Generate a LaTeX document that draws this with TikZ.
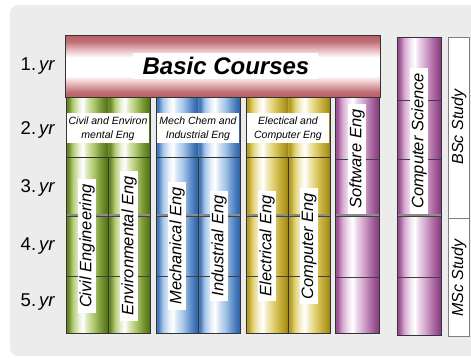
\documentclass[tikz,border=0pt]{standalone}
\usepackage{fontspec}
\setmainfont{Liberation Sans}
\setsansfont{Liberation Sans}
\definecolor{bg}{RGB}{236,236,236}
\definecolor{pinkD}{RGB}{182,96,102}
\definecolor{pinkL}{RGB}{232,188,190}
\definecolor{greenD}{RGB}{96,130,32}
\definecolor{greenL}{RGB}{180,204,115}
\definecolor{blueD}{RGB}{60,114,182}
\definecolor{blueL}{RGB}{166,198,234}
\definecolor{goldD}{RGB}{178,152,30}
\definecolor{goldL}{RGB}{226,210,115}
\definecolor{purD}{RGB}{152,76,142}
\definecolor{purL}{RGB}{212,166,206}
\newcommand\mkstripe[2]{\pgfdeclarehorizontalshading{#1}{100bp}{color(0bp)=(#2D!80!#2L); color(25bp)=(#2D!80!#2L); color(27bp)=(#2D); color(33bp)=(#2L); color(40bp)=(#2L!30!white); color(45bp)=(white); color(50bp)=(#2L!50!white); color(57bp)=(#2L); color(65bp)=(#2D!60!#2L); color(71bp)=(#2D); color(75bp)=(#2D!85!black); color(100bp)=(#2D!85!black)}}
\mkstripe{greenS}{green}
\mkstripe{blueS}{blue}
\mkstripe{goldS}{gold}
\mkstripe{purS}{pur}
\pgfdeclareverticalshading{pinkV}{100bp}{color(0bp)=(pinkD); color(25bp)=(pinkD); color(29bp)=(pinkD!85!pinkL); color(36bp)=(pinkL); color(42bp)=(white); color(57bp)=(white); color(63bp)=(pinkL); color(70bp)=(pinkD!85!pinkL); color(75bp)=(pinkD); color(100bp)=(pinkD)}
\begin{document}
\begin{tikzpicture}[x=1pt,y=-1pt,
  border/.style={draw=black!80, line width=0.7pt},
  hatch/.style={draw=black!75, double=black!45, double distance=1.4pt, line width=0.8pt},
  yrline/.style={draw=black!75, line width=0.6pt},
  colabel/.style={rotate=90, fill=white, inner xsep=5pt, inner ysep=1.5pt, font=\fontsize{16.5}{18}\selectfont\itshape},
  headlabel/.style={align=center, font=\fontsize{10.5}{14}\selectfont\itshape},
  yrlabel/.style={font=\fontsize{18.5}{20}\selectfont},
  studylabel/.style={rotate=90, font=\fontsize{16}{18}\selectfont\itshape},
]
\useasboundingbox (0,0) rectangle (471,357);
\fill[bg, rounded corners=8pt] (10,5) rectangle (490,356);

% Basic courses
\shade[shading=pinkV] (65,35) rectangle (380,97);
\fill[white] (133,53) rectangle (318,79);
\draw[border] (65,35) rectangle (380,97);
\node[font=\fontsize{24}{26}\selectfont\bfseries\itshape] (basic) at (226,66) {Basic Courses};

% Green column
\shade[shading=greenS] (66,97) rectangle (108,333);
\shade[shading=greenS] (108,97) rectangle (150,333);
\fill[white] (67,113) rectangle (149,143);
\draw[hatch] (66,215) -- (150,215);
\draw[yrline] (66,276) -- (150,276);
\draw[border] (66,97) rectangle (150,333);
\draw[border] (66,157) -- (150,157);
\draw[border] (108,157) -- (108,333);
\node[headlabel] (greenhead) at (108,129) {Civil and Environ\\mental Eng};
\node[colabel] (civil) at (87,246) {Civil Engineering};
\node[colabel] (env) at (129,246) {Environmental Eng};

% Blue column
\shade[shading=blueS] (156,97) rectangle (198,333);
\shade[shading=blueS] (198,97) rectangle (240,333);
\fill[white] (157,113) rectangle (239,143);
\draw[hatch] (156,215) -- (240,215);
\draw[yrline] (156,276) -- (240,276);
\draw[border] (156,97) rectangle (240,333);
\draw[border] (156,157) -- (240,157);
\draw[border] (198,157) -- (198,333);
\node[headlabel] (bluehead) at (198,129) {Mech Chem and\\Industrial Eng};
\node[colabel] (mech) at (177,246) {Mechanical Eng};
\node[colabel] (ind) at (219,246) {Industrial Eng};

% Gold column
\shade[shading=goldS] (246,97) rectangle (288,333);
\shade[shading=goldS] (288,97) rectangle (330,333);
\fill[white] (247,113) rectangle (329,143);
\draw[hatch] (246,215) -- (330,215);
\draw[yrline] (246,276) -- (330,276);
\draw[border] (246,97) rectangle (330,333);
\draw[border] (246,157) -- (330,157);
\draw[border] (288,157) -- (288,333);
\node[headlabel] (goldhead) at (288,129) {Electical and\\Computer Eng};
\node[colabel] (elec) at (267,246) {Electrical Eng};
\node[colabel] (comp) at (309,246) {Computer Eng};

% Software Eng
\shade[shading=purS] (335,97) rectangle (379,333);
\draw[yrline] (335,159) -- (379,159);
\draw[hatch] (335,215) -- (379,215);
\draw[yrline] (335,277) -- (379,277);
\draw[border] (335,97) rectangle (379,333);
\node[colabel] (soft) at (357,159) {Software Eng};

% Computer Science
\shade[shading=purS] (397,37) rectangle (441,335);
\draw[yrline] (397,100) -- (441,100);
\draw[yrline] (397,159) -- (441,159);
\draw[hatch] (397,215) -- (441,215);
\draw[yrline] (397,277) -- (441,277);
\draw[border] (397,37) rectangle (441,335);
\node[colabel] (cs) at (419,141) {Computer Science};

% Study box
\draw[fill=white, draw=black!50, line width=0.6pt] (448,37) rectangle (469,336);
\draw[draw=black!50, line width=0.6pt] (448,218) -- (469,218);
\node[studylabel] (bsc) at (459,127) {BSc Study};
\node[studylabel] (msc) at (459,278) {MSc Study};

% Year labels
\node[yrlabel] (y1) at (38,66) {1.\,\textit{yr}};
\node[yrlabel] (y2) at (38,130) {2.\,\textit{yr}};
\node[yrlabel] (y3) at (38,188) {3.\,\textit{yr}};
\node[yrlabel] (y4) at (38,246) {4.\,\textit{yr}};
\node[yrlabel] (y5) at (38,302) {5.\,\textit{yr}};
\end{tikzpicture}
\end{document}
